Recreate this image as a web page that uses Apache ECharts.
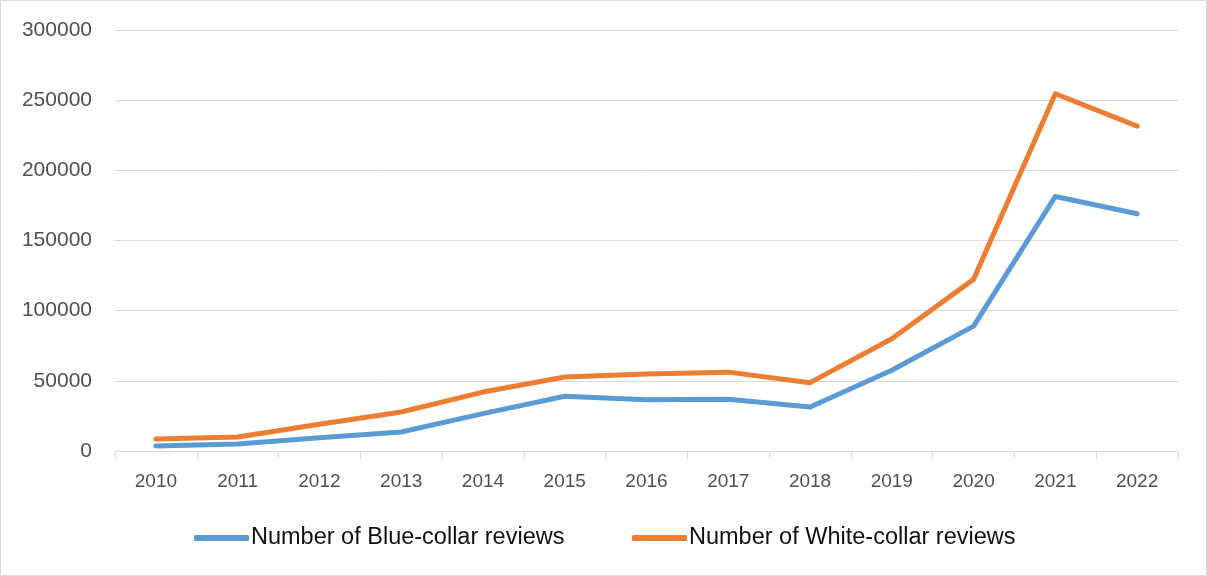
<!DOCTYPE html>
<html>
  <head>
    <meta charset="utf-8" />
    <title>Reviews</title>
    <script src="https://cdn.jsdelivr.net/npm/echarts@6/dist/echarts.min.js"></script>
    <style>
      html, body { margin: 0; padding: 0; background: #fff; }
    </style>
  </head>
  <body>
    <div id="main" style="width: 1207px;height:576px;"></div>
    <script type="text/javascript">
// years on the x axis
const years = ['2010', '2011', '2012', '2013', '2014', '2015', '2016',
               '2017', '2018', '2019', '2020', '2021', '2022'];
// values
const blueCollar = [3600, 5000, 9500, 13500, 26600, 39000, 36600,
                    36800, 31300, 57500, 89000, 181400, 169100];
const whiteCollar = [8500, 10000, 19000, 27800, 42000, 52700, 54800,
                     56200, 48700, 80000, 122300, 254600, 231500];
const seriesNames = ['Number of Blue-collar reviews', 'Number of White-collar reviews'];
const seriesColors = ['#5B9BD5', '#ED7D31'];

var chartDom = document.getElementById('main');
var myChart = echarts.init(chartDom);
var option;

function makeLegend(i, left) {
  return {
    data: [seriesNames[i]],
    left: left,
    top: 526,
    padding: 0,
    icon: 'roundRect',
    itemWidth: 55,
    itemHeight: 6,
    textStyle: { fontSize: 23.5, color: '#111', padding: [0, 0, 0, -3], fontFamily: 'Liberation Sans, Arial, sans-serif' }
  };
}

option = {
  animation: false,
  backgroundColor: '#fff',
  color: seriesColors,
  graphic: [{
    type: 'rect',
    shape: { x: 0.5, y: 0.5, width: 1206, height: 575 },
    style: { fill: 'none', stroke: '#d9d9d9', lineWidth: 1 },
    silent: true
  }],
  legend: [makeLegend(0, 194), makeLegend(1, 632)],
  grid: { left: 115, right: 29, top: 30, bottom: 125 },
  xAxis: {
    type: 'category',
    data: years,
    boundaryGap: true,
    axisLine: { lineStyle: { color: '#d9d9d9', width: 1 } },
    axisTick: { show: true, length: 8, lineStyle: { color: '#d9d9d9' } },
    axisLabel: { fontSize: 19, color: '#505050', margin: 21, fontFamily: 'Liberation Sans, Arial, sans-serif' }
  },
  yAxis: {
    type: 'value',
    min: 0,
    max: 300000,
    interval: 50000,
    axisLine: { show: false },
    axisTick: { show: false },
    splitLine: { lineStyle: { color: '#d9d9d9', width: 1 } },
    axisLabel: {
      fontSize: 21, color: '#505050', margin: 23,
      fontFamily: 'Liberation Sans, Arial, sans-serif',
      formatter: function (v) { return String(v); }
    }
  },
  series: [
    {
      name: seriesNames[0],
      type: 'line',
      data: blueCollar,
      showSymbol: false,
      lineStyle: { width: 5, color: seriesColors[0], cap: 'round', join: 'round' }
    },
    {
      name: seriesNames[1],
      type: 'line',
      data: whiteCollar,
      showSymbol: false,
      lineStyle: { width: 5, color: seriesColors[1], cap: 'round', join: 'round' }
    }
  ]
};

option && myChart.setOption(option);
    </script>
  </body>
</html>
